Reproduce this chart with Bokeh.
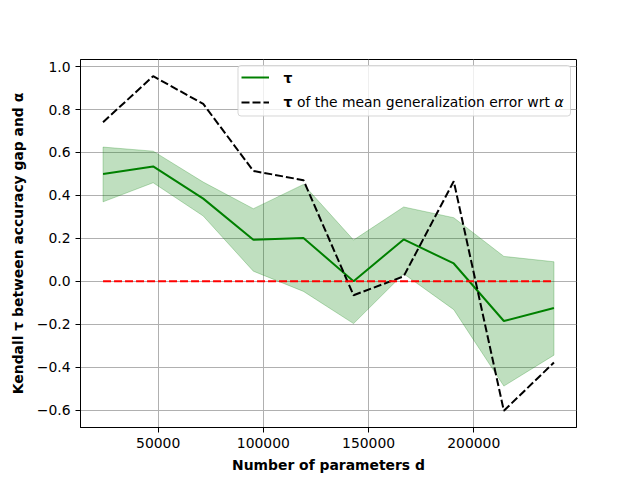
from bokeh.plotting import figure
from bokeh.models import Range1d, FixedTicker, Legend, LegendItem, Label, BoxAnnotation
from bokeh.embed import file_html
from bokeh.resources import INLINE

# ---- data ----
params = [23810, 47619, 71429, 95238, 119048, 142857, 166667, 190476, 214286, 238095]
tau = [0.500, 0.535, 0.385, 0.193, 0.202, 0.000, 0.195, 0.083, -0.185, -0.124]
tau_hi = [0.625, 0.606, 0.462, 0.338, 0.451, 0.192, 0.346, 0.296, 0.116, 0.091]
tau_lo = [0.370, 0.459, 0.304, 0.047, -0.047, -0.197, 0.035, -0.132, -0.488, -0.344]
tau_mean_err = [0.741, 0.955, 0.826, 0.514, 0.471, -0.065, 0.023, 0.466, -0.603, -0.378]
zero_line = [0.0] * len(params)

x_ticks = [50000, 100000, 150000, 200000]
x_tick_labels = ["50000", "100000", "150000", "200000"]
y_ticks = [-0.6, -0.4, -0.2, 0.0, 0.2, 0.4, 0.6, 0.8, 1.0]
y_tick_labels = ["\u22120.6", "\u22120.4", "\u22120.2", "0.0", "0.2", "0.4", "0.6", "0.8", "1.0"]

x_label = "Number of parameters d"
y_label = "Kendall \u03c4 between accuracy gap and \u03b1"
legend_tau = "\u03c4"
legend_rest = "of the mean generalization error wrt"
legend_alpha = "\u03b1"

FONT = "DejaVu Sans"
FS = "13.9px"

# frame placement on the page (px)
FL, FT, FW, FH = 80, 59, 496, 368

# ---- ranges with matplotlib-like 5% margins ----
xmin, xmax = min(params), max(params)
xs = xmax - xmin
x_lo, x_hi = xmin - 0.05 * xs, xmax + 0.05 * xs
all_y = tau + tau_hi + tau_lo + tau_mean_err + zero_line
ymin, ymax = min(all_y), max(all_y)
ys = ymax - ymin
y_lo, y_hi = ymin - 0.05 * ys, ymax + 0.05 * ys

p = figure(width=640, height=480, output_backend="svg", toolbar_location=None,
           x_range=Range1d(x_lo, x_hi), y_range=Range1d(y_lo, y_hi),
           min_border_left=FL, min_border_right=640 - FL - FW,
           min_border_top=FT, min_border_bottom=480 - FT - FH)
p.background_fill_color = "white"
p.border_fill_color = "white"
p.outline_line_color = "black"
p.outline_line_width = 1

# grid
for g in (p.xgrid, p.ygrid):
    g.grid_line_color = "#b0b0b0"
    g.grid_line_width = 1
p.xgrid.ticker = FixedTicker(ticks=x_ticks)
p.ygrid.ticker = FixedTicker(ticks=y_ticks)

# axes
p.xaxis.ticker = FixedTicker(ticks=x_ticks)
p.yaxis.ticker = FixedTicker(ticks=y_ticks)
p.xaxis.major_label_overrides = {t: l for t, l in zip(x_ticks, x_tick_labels)}
p.yaxis.major_label_overrides = {t: l for t, l in zip(y_ticks, y_tick_labels)}
for ax in (p.xaxis[0], p.yaxis[0]):
    ax.axis_line_color = "black"
    ax.major_tick_line_color = "black"
    ax.major_tick_out = 5
    ax.major_tick_in = 0
    ax.minor_tick_out = 0
    ax.minor_tick_in = 0
    ax.major_label_text_font = FONT
    ax.major_label_text_font_size = FS
    ax.major_label_text_color = "black"
    ax.major_label_standoff = 5
    ax.axis_label_text_font = FONT
    ax.axis_label_text_font_size = FS
    ax.axis_label_text_font_style = "bold"
    ax.axis_label_text_color = "black"
p.xaxis.axis_label = x_label
p.yaxis.axis_label = y_label
p.xaxis.axis_label_standoff = 6
p.yaxis.axis_label_standoff = 8

# band
band_x = params + params[::-1]
band_y = tau_hi + tau_lo[::-1]
p.patch(band_x, band_y, fill_color="green", fill_alpha=0.25,
        line_color="green", line_alpha=0.25, line_width=1)

r_tau = p.line(params, tau, line_color="green", line_width=2)
r_mean = p.line(params, tau_mean_err, line_color="black", line_width=2, line_dash="8 3")
p.line(params, zero_line, line_color="red", line_width=2, line_dash="8 3")


def px2x(px):
    return x_lo + (px - FL) / float(FW) * (x_hi - x_lo)


def py2y(py):
    return y_hi - (py - FT) / float(FH) * (y_hi - y_lo)


# legend frame (drawn as a box so that the overlaid mixed-style texts stay on top)
p.add_layout(BoxAnnotation(left=px2x(237.5), right=px2x(570), top=py2y(65), bottom=py2y(115.5),
                           fill_color="white", fill_alpha=0.8,
                           line_color="#cccccc", line_alpha=0.8, line_width=1,
                           border_radius=3, level="annotation"))

# legend samples from Bokeh
legend = Legend(items=[LegendItem(label=" ", renderers=[r_tau]),
                       LegendItem(label=" ", renderers=[r_mean])],
                location="top_right", margin=6, padding=3, spacing=7,
                glyph_width=28, glyph_height=18, label_height=18,
                label_width=286, label_standoff=12,
                background_fill_alpha=0, border_line_alpha=0,
                label_text_font=FONT, label_text_font_size=FS)
p.add_layout(legend)


def add_text(px, py, text, style):
    p.add_layout(Label(x=px2x(px), y=py2y(py), text=text, text_font=FONT,
                       text_font_size=FS, text_font_style=style, text_color="black",
                       text_align="left", text_baseline="middle", level="overlay"))


add_text(283, 77, legend_tau, "bold")
add_text(283, 101, legend_tau, "bold")
add_text(296.5, 101, legend_rest, "normal")
add_text(554, 101, legend_alpha, "italic")

open("out.html", "w").write(file_html(p, INLINE))
